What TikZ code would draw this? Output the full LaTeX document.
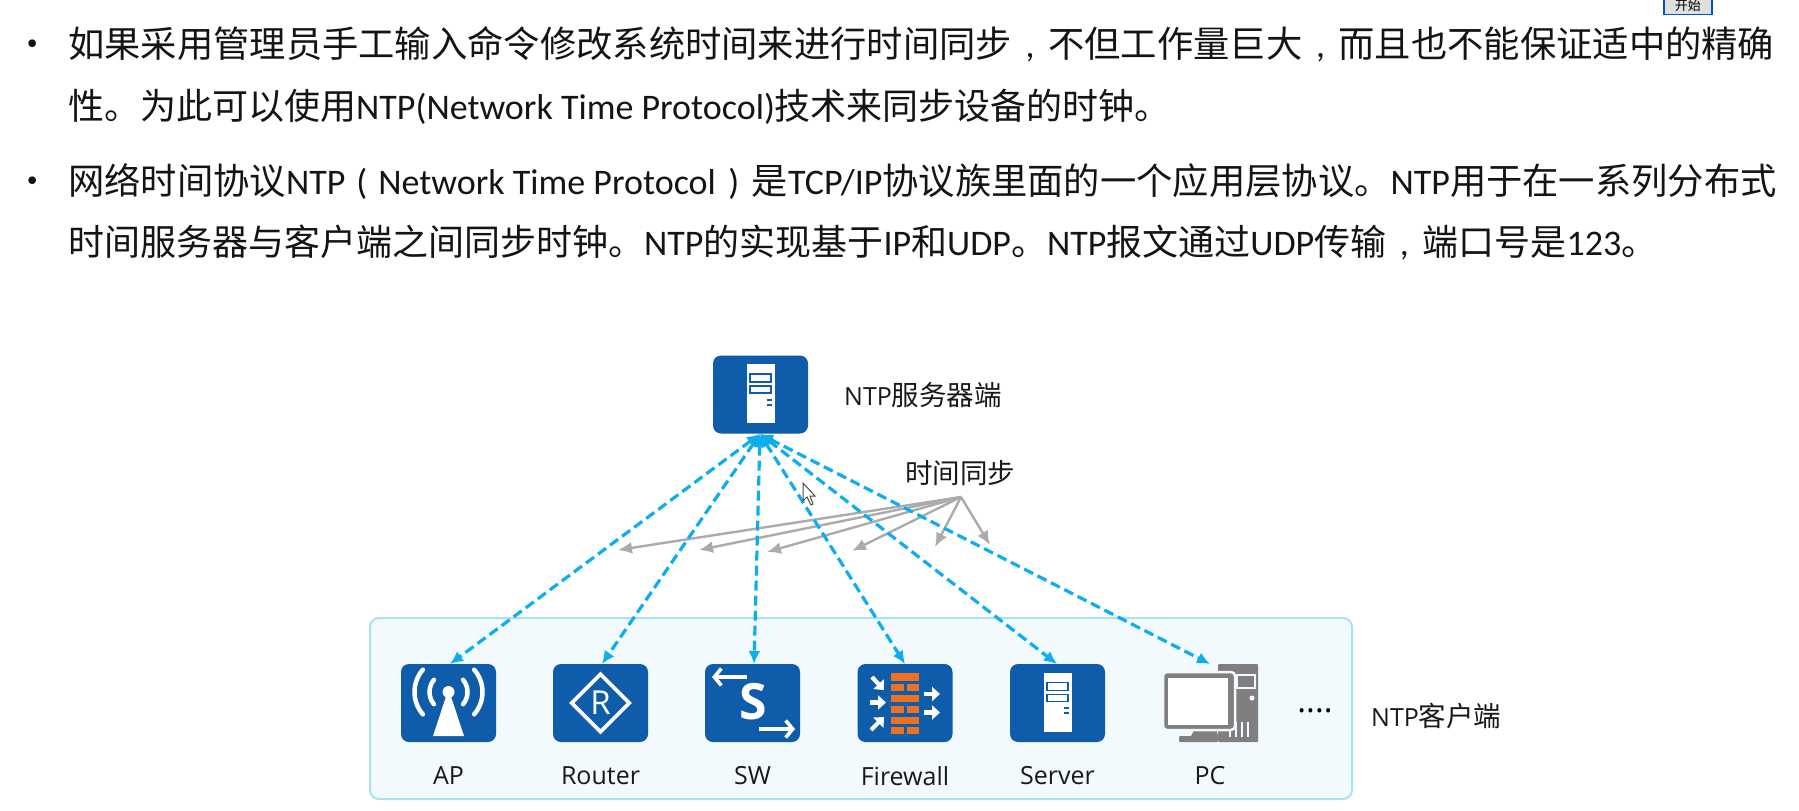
\documentclass[tikz,border=0pt]{standalone}
\usepackage{fontspec}
\setmainfont{Noto Sans CJK SC}
\newfontfamily\lat{Open Sans}
\newfontfamily\bodylat{Carlito}
\usetikzlibrary{arrows.meta,shapes.geometric}
\definecolor{iconblue}{HTML}{0F5CAB}
\definecolor{linkblue}{HTML}{0CAEEE}
\definecolor{panelfill}{HTML}{F2FAFE}
\definecolor{panelline}{HTML}{ABE1F1}
\definecolor{grayarrow}{HTML}{ABABAB}
\definecolor{pcgray}{HTML}{7F7F7F}
\definecolor{brick}{HTML}{EE7122}
\newcommand{\bl}[1]{{\bodylat\fontsize{36}{36}\selectfont #1}}
\newcommand{\cc}{\makebox[36.3pt]{\bl{,}}}
\newcommand{\lp}{\makebox[33pt]{\bl{(}}}
\newcommand{\rp}{\makebox[36pt]{\bl{)}}}
\tikzset{
  x=1pt,y=-1pt,
  iconbox/.style={fill=iconblue,rounded corners=8pt,minimum width=95pt,minimum height=78pt,inner sep=0pt,draw=none},
  bodytext/.style={anchor=base west,inner sep=0pt,font=\fontsize{36.3}{36.3}\selectfont,text=black!92},
  plaintext/.style={anchor=base west,inner sep=0pt,font=\fontsize{36}{36}\selectfont,text=black!92},
  caption/.style={inner sep=0pt,font=\fontsize{25}{25}\selectfont\lat,text=black!90},
  sidelabel/.style={inner sep=0pt,font=\fontsize{27.5}{27.5}\selectfont,text=black!90},
  sync/.style={linkblue,line width=3.2pt,dash pattern=on 10pt off 5pt,{Latex[length=13pt,width=12pt]}-{Latex[length=13pt,width=12pt]}},
  pointer/.style={grayarrow,line width=2.4pt,-{Latex[length=14pt,width=12pt]}},
}
\newcommand{\towericon}[1]{%
  \begin{scope}[shift={(#1)}]
    \fill[white] (-14,-30.5) rectangle (14,28.5);
    \draw[iconblue,line width=1.6pt,fill=white] (-10.5,-20.5) rectangle (10.5,-12.5);
    \draw[iconblue,line width=1.6pt,fill=white] (-10.5,-8.5) rectangle (10.5,-1.5);
    \fill[iconblue] (6,4) rectangle (11.5,6);
    \fill[iconblue] (6,9) rectangle (11.5,11);
  \end{scope}}
\begin{document}
\begin{tikzpicture}
\useasboundingbox (0,0) rectangle (1799,811);
\fill[white] (0,0) rectangle (1799,811);
% start button fragment
\node[draw=blue!60!cyan!80!black,line width=1.5pt,fill=black!12,minimum width=48pt,minimum height=18pt,inner sep=0pt,anchor=south west,font=\fontsize{13}{13}\selectfont] (btn) at (1663,15) {开始};
% text
\node[bodytext] (b1) at (14,57) {•};
\node[bodytext] (l1) at (68,57) {如果采用管理员手工输入命令修改系统时间来进行时间同步\cc 不但工作量巨大\cc 而且也不能保证适中的精确};
\node[plaintext] (l2) at (68,119) {性。为此可以使用\bl{NTP(Network Time Protocol)}技术来同步设备的时钟。};
\node[bodytext] (b2) at (14,194) {•};
\node[bodytext] (l3) at (68,194) {网络时间协议\bl{NTP}\lp\bl{Network Time Protocol}\rp 是\bl{TCP/IP}协议族里面的一个应用层协议。\bl{NTP}用于在一系列分布式};
\node[plaintext] (l4) at (68,255) {时间服务器与客户端之间同步时钟。\bl{NTP}的实现基于\bl{IP}和\bl{UDP}。\bl{NTP}报文通过\bl{UDP}传输\cc 端口号是\bl{123}。};
% panel
\node[draw=panelline,fill=panelfill,line width=2pt,rounded corners=9pt,minimum width=982pt,minimum height=181pt,inner sep=0pt] (panel) at (861,708.5) {};
% icons
\node[iconbox] (srv) at (760.5,394.5) {};
\towericon{760.5,394.5}
\node[iconbox] (ap) at (448.5,703) {};
\node[iconbox] (rt) at (600.5,703) {};
\node[iconbox] (sw) at (752.5,703) {};
\node[iconbox] (fw) at (905,703) {};
\node[iconbox] (sv) at (1057.5,703) {};
\towericon{1057.5,703}
\coordinate (pctop) at (1210,664);
% AP glyph
\begin{scope}[shift={(448.5,703)}]
  \fill[white] (-1,-11) -- (1,-11) -- (15.5,33) -- (-15.5,33) -- cycle;
  \fill[white] (0,-11) circle (6);
  \foreach \r/\a in {19/40,34/41}{
    \draw[white,line width=4.5pt,line cap=round] (0,-11) ++(\a:\r) arc[start angle=\a,end angle=-\a,radius=\r];
    \draw[white,line width=4.5pt,line cap=round] (0,-11) ++(180-\a:\r) arc[start angle=180-\a,end angle=180+\a,radius=\r];
  }
\end{scope}
% Router glyph
\node[diamond,draw=white,line width=3.8pt,minimum width=59pt,minimum height=59pt,inner sep=0pt,aspect=1] (rtd) at (600.5,703) {};
\node[text=white,inner sep=0pt,font=\fontsize{33}{33}\selectfont\lat] (rtr) at (600.5,703) {R};
% SW glyph
\node[text=white,inner sep=0pt,font=\fontsize{50}{50}\selectfont\lat\bfseries] (sws) at (753,702) {S};
\coordinate (swa1) at (747,677); \coordinate (swa2) at (712,677);
\coordinate (swb1) at (759,729); \coordinate (swb2) at (795,729);
\draw[white,line width=3.6pt,-{Straight Barb[length=7pt,width=17pt]}] (swa1) -- (swa2);
\draw[white,line width=3.6pt,-{Straight Barb[length=7pt,width=17pt]}] (swb1) -- (swb2);
% Firewall glyph
\begin{scope}[shift={(905,703)}]
  \fill[brick] (-14,-30) rectangle (14,-22);
  \fill[brick] (-14,-19) rectangle (-1.5,-12);  \fill[brick] (1.5,-19) rectangle (14,-12);
  \fill[brick] (-14,-8) rectangle (14,-1);
  \fill[brick] (-14,3) rectangle (-1.5,10);  \fill[brick] (1.5,3) rectangle (14,10);
  \fill[brick] (-14,14) rectangle (14,21);
  \fill[brick] (-14,24) rectangle (-1.5,31);  \fill[brick] (1.5,24) rectangle (14,31);
  \foreach \xa/\ya/\xb/\yb in {-33/-26/-21/-13, -35/-0.5/-19/-0.5, -34/27/-21/14, 19/-9/35/-9, 19/9.5/35/9.5}{
    \draw[white,line width=4.2pt,-{Triangle[length=8pt,width=14pt]}] (\xa,\ya) -- (\xb,\yb);
  }
\end{scope}
% PC glyph
\begin{scope}[shift={(1210,703)}]
  \fill[pcgray,rounded corners=1pt] (8,-39) rectangle (48,39);
  \draw[panelfill,line width=1.3pt] (27,-28) rectangle (45,-15);
  \fill[panelfill] (42,-5) circle (2.5);
  \foreach \x in {20,26,32,38}{\draw[panelfill,line width=1.4pt] (\x,19) -- (\x,34);}
  \fill[pcgray] (-19,33) -- (-15,26) -- (6,26) -- (8,33) -- cycle;
  \fill[pcgray,rounded corners=1pt] (-31,33) rectangle (8,39);
  \fill[pcgray,rounded corners=4pt,draw=panelfill,line width=2.5pt] (-47,-31) rectangle (25,27);
  \fill[white] (-42,-25) rectangle (18,22);
\end{scope}
% labels
\node[caption] (tap) at (448.5,776) {AP};
\node[caption] (trt) at (600.5,776) {Router};
\node[caption] (tsw) at (752.5,776) {SW};
\node[caption] (tfw) at (905,776) {Firewall};
\node[caption] (tsv) at (1057.5,776) {Server};
\node[caption] (tpc) at (1210,776) {PC};
\node[inner sep=0pt,font=\fontsize{33}{33}\selectfont\lat] (dots) at (1315,711) {....};
\node[sidelabel,anchor=west] (lsrv) at (844,395) {{\lat\fontsize{25}{25}\selectfont NTP}服务器端};
\node[sidelabel,anchor=west] (lcli) at (1371,716) {{\lat\fontsize{25}{25}\selectfont NTP}客户端};
\node[sidelabel,anchor=west] (lsync) at (905,473) {时间同步};
% pointers
\coordinate (g) at (961,497);
\foreach \n/\x/\y in {a/618/550,b/699/550,c/767/552,d/852/551,e/935/547,f/990/545}{
  \coordinate (tip\n) at (\x,\y);
  \draw[pointer] (g) -- (tip\n);
}
% sync links
\coordinate (s0) at (760,434);
\coordinate (apt) at (450,664);
\coordinate (rtt) at (602,664);
\coordinate (swt) at (754,664);
\coordinate (fwt) at (905,664);
\coordinate (svt) at (1057,664);
\draw[sync] (s0) -- (apt);
\draw[sync] (s0) -- (rtt);
\draw[sync] (s0) -- (swt);
\draw[sync] (s0) -- (fwt);
\draw[sync] (s0) -- (svt);
\draw[sync] (s0) -- (pctop);
% cursor
\draw[black!70,fill=white,line width=1pt] (803,483) -- (803,501) -- (807,497) -- (811,505) -- (813,504) -- (810,496) -- (815,496) -- cycle;
\end{tikzpicture}
\end{document}
